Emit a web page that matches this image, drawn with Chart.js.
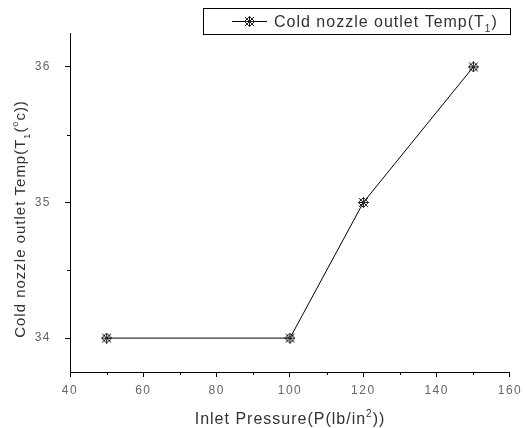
<!DOCTYPE html>
<html>
<head>
<meta charset="utf-8">
<script src="https://cdn.jsdelivr.net/npm/chart.js@4.4.1/dist/chart.umd.min.js"></script>
<style>
  html, body { margin: 0; padding: 0; background: #fff; }
  #wrap { width: 526px; height: 428px; }
</style>
</head>
<body>
<div id="wrap"><canvas id="tempChart" width="526" height="428"></canvas></div>
<script>
// data
const pressures = [50, 100, 120, 150];
const coldTemps = [34, 34, 35, 36];
const xTicks = [40, 60, 80, 100, 120, 140, 160];
const yTicks = [34, 35, 36];
const seriesName = "Cold nozzle outlet Temp(T";

const FONT = '"Liberation Sans", Arial, sans-serif';

// marker : cross + x + diamond, a little lattice
function makeMarker(size) {
  const c = document.createElement("canvas");
  c.width = size;
  c.height = size;
  const g = c.getContext("2d");
  const m = size / 2;
  g.strokeStyle = "#222";
  g.lineWidth = 1;
  g.beginPath();
  g.moveTo(1, 1); g.lineTo(size - 1, size - 1);
  g.moveTo(size - 1, 1); g.lineTo(1, size - 1);
  g.moveTo(m, 0); g.lineTo(m, size);
  g.moveTo(0, m); g.lineTo(size, m);
  g.moveTo(m, 0.5); g.lineTo(size - 0.5, m); g.lineTo(m, size - 0.5); g.lineTo(0.5, m); g.closePath();
  g.stroke();
  return c;
}
const marker = makeMarker(11);

// text with sub/superscripts: parts = [[text, "n"|"sub"|"sup"], ...]
function richWidth(ctx, parts, size) {
  let w = 0;
  parts.forEach(([t, mode]) => {
    ctx.font = (mode === "n" ? size : Math.round(size * 0.6)) + "px " + FONT;
    w += ctx.measureText(t).width;
  });
  return w;
}
function drawRich(ctx, parts, x, y, size) {
  ctx.textBaseline = "alphabetic";
  ctx.textAlign = "left";
  parts.forEach(([t, mode]) => {
    let dy = 0;
    if (mode === "sub") dy = size * 0.3;
    if (mode === "sup") dy = -size * 0.45;
    ctx.font = (mode === "n" ? size : Math.round(size * 0.6)) + "px " + FONT;
    ctx.fillText(t, x, y + dy);
    x += ctx.measureText(t).width;
  });
}

const extrasPlugin = {
  id: "extras",
  beforeDraw(chart) {
    // the tick numbers are a bit spread out in the original
    chart.ctx.letterSpacing = "1.5px";
  },
  afterDraw(chart) {
    const ctx = chart.ctx;
    const area = chart.chartArea;
    const xs = chart.scales.x;
    const ys = chart.scales.y;
    ctx.save();

    // minor ticks (between labelled ones)
    ctx.strokeStyle = "#000";
    ctx.lineWidth = 1;
    ctx.beginPath();
    for (let i = 0; i < xTicks.length - 1; i++) {
      const px = Math.round(xs.getPixelForValue((xTicks[i] + xTicks[i + 1]) / 2)) + 0.5;
      ctx.moveTo(px, area.bottom);
      ctx.lineTo(px, area.bottom + 3);
    }
    for (let i = 0; i < yTicks.length - 1; i++) {
      const py = Math.round(ys.getPixelForValue((yTicks[i] + yTicks[i + 1]) / 2)) + 0.5;
      ctx.moveTo(area.left, py);
      ctx.lineTo(area.left - 3, py);
    }
    ctx.stroke();

    ctx.fillStyle = "#352f3a";
    ctx.letterSpacing = "1px";

    // x axis title
    const xParts = [["Inlet Pressure(P(lb/in", "n"], ["2", "sup"], ["))", "n"]];
    const xw = richWidth(ctx, xParts, 16);
    drawRich(ctx, xParts, (area.left + area.right) / 2 - xw / 2, 424, 16);

    // y axis title
    const yParts = [["Cold nozzle outlet Temp(T", "n"], ["1", "sub"], ["(", "n"], ["o", "sup"], ["c))", "n"]];
    const yw = richWidth(ctx, yParts, 15);
    ctx.save();
    ctx.translate(25, 219);
    ctx.rotate(-Math.PI / 2);
    drawRich(ctx, yParts, -yw / 2, 0, 15);
    ctx.restore();

    // legend box
    ctx.strokeStyle = "#000";
    ctx.strokeRect(203.5, 8.5, 307, 26);
    ctx.beginPath();
    ctx.moveTo(232, 21.5);
    ctx.lineTo(267, 21.5);
    ctx.stroke();
    ctx.drawImage(marker, 244, 16);
    drawRich(ctx, [[seriesName, "n"], ["1", "sub"], [")", "n"]], 274, 27, 16);

    ctx.restore();
  },
};

const ctx = document.getElementById("tempChart");

new Chart(ctx, {
  type: "line",
  data: {
    datasets: [
      {
        label: seriesName + "1)",
        data: pressures.map((p, i) => ({ x: p, y: coldTemps[i] })),
        borderColor: "#000",
        borderWidth: 1,
        pointStyle: marker,
        tension: 0,
      },
    ],
  },
  options: {
    responsive: false,
    animation: false,
    layout: { padding: { top: 33, right: 13, left: 0, bottom: 0 } },
    plugins: {
      legend: { display: false },
      tooltip: { enabled: false },
    },
    scales: {
      x: {
        type: "linear",
        min: xTicks[0],
        max: xTicks[xTicks.length - 1],
        afterBuildTicks: (s) => {
          s.ticks = xTicks.map((v) => ({ value: v }));
        },
        afterFit: (s) => {
          s.height = 56;
        },
        ticks: {
          color: "#666",
          font: { family: FONT, size: 12 },
          padding: 6,
          maxRotation: 0,
        },
        grid: { drawOnChartArea: false, tickLength: 5, color: "#000" },
        border: { color: "#000", width: 1 },
      },
      y: {
        type: "linear",
        min: 33.75,
        max: 36.25,
        afterBuildTicks: (s) => {
          s.ticks = yTicks.map((v) => ({ value: v }));
        },
        afterFit: (s) => {
          s.width = 70;
        },
        ticks: {
          color: "#666",
          font: { family: FONT, size: 12 },
          padding: 14,
        },
        grid: { drawOnChartArea: false, tickLength: 5, color: "#000" },
        border: { color: "#000", width: 1 },
      },
    },
  },
  plugins: [extrasPlugin],
});
</script>
</body>
</html>
